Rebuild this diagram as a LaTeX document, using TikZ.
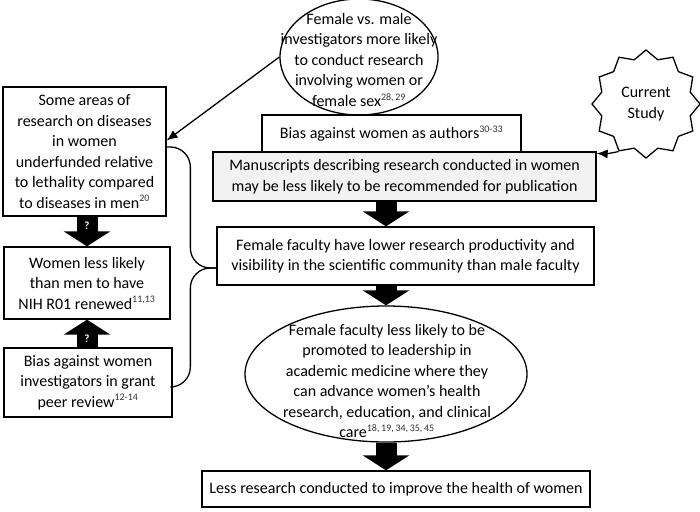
\documentclass[tikz,border=0pt]{standalone}
\usepackage{fontspec}
\setmainfont{Carlito}
\usetikzlibrary{arrows.meta,shapes.geometric}
\definecolor{shade}{HTML}{F2F2F2}
\newcommand\cites[1]{\textsuperscript{\fontsize{10}{10}\selectfont\color{black!80}#1}}
\tikzset{
	box/.style={draw,line width=1.3pt,rectangle,inner sep=0pt,align=center},
	oval/.style={draw,line width=1.3pt,ellipse,inner sep=0pt},
	txt/.style={align=center,inner sep=0pt},
	fat/.style={line width=21pt,-{Triangle[length=15pt,width=46pt]}},
	qmark/.style={text=white,font=\fontsize{11}{11}\selectfont\bfseries,inner sep=0pt},
	link/.style={line width=1.3pt},
}
\begin{document}
\begin{tikzpicture}[x=1pt,y=-1pt,font=\fontsize{16}{20.5}\selectfont]
	\useasboundingbox (0,0) rectangle (700,511);
	
	%LEFT COLUMN
	\node[box,minimum width=163,minimum height=129] (areas) at (84.5,151.5) {Some areas of\\research on diseases\\in women\\underfunded relative\\to lethality compared\\to diseases in men\cites{20}};
	\node[box,minimum width=166,minimum height=72] (renew) at (87,283) {Women less likely\\than men to have\\NIH R01 renewed\cites{11,13}};
	\node[box,minimum width=168,minimum height=69] (grant) at (88,382.5) {Bias against women\\investigators in grant\\peer review\cites{12-14}};
	
	%MIDDLE COLUMN
	\node[oval,minimum width=158,minimum height=116] (invest) at (359,57) {};
	\node[txt] at (359,60) {Female vs. male\\investigators more likely\\to conduct research\\involving women or\\female sex\cites{28,\,29}};
	\node[box,minimum width=259,minimum height=37] (authors) at (391.5,133.5) {Bias against women as authors\cites{30-33}};
	\node[box,fill=shade,minimum width=383,minimum height=49] (manus) at (404.5,176.5) {Manuscripts describing research conducted in women\\may be less likely to be recommended for publication};
	\node[box,minimum width=377,minimum height=58] (faculty) at (405.5,256) {Female faculty have lower research productivity and\\visibility in the scientific community than male faculty};
	\node[oval,minimum width=282,minimum height=136] (leader) at (386,374) {};
	\node[txt] at (387,381) {Female faculty less likely to be\\promoted to leadership in\\academic medicine where they\\can advance women’s health\\research, education, and clinical\\care\cites{18,\,19,\,34,\,35,\,45}};
	\node[box,minimum width=388,minimum height=36] (less) at (396,489) {Less research conducted to improve the health of women};
	
	%STAR
	\node[draw,line width=1.3pt,star,star points=12,star point ratio=1.18,minimum size=108,inner sep=0pt,align=center] (study) at (646,104) {Current\\Study};
	
	%BLOCK ARROWS
	\draw[fat] (areas.south -| renew.north) -- node[qmark,pos=0.3]{?} (renew.north);
	\draw[fat] (grant.north -| renew.south) -- node[qmark,pos=0.3]{?} (renew.south);
	\draw[fat] (manus.south -| leader.north) -- (faculty.north -| leader.north);
	\draw[fat] (faculty.south -| leader.north) -- (leader.north);
	\draw[fat] (leader.south) -- (less.north -| leader.south);
	
	%THIN ARROWS
	\draw[link,-{Latex[length=11pt,width=9pt]}] (invest.west) -- ([yshift=11pt]areas.east);
	\draw[link,-{Latex[length=11pt,width=9pt]}] (study.-120) to[bend left=8] ([yshift=-2pt]manus.north east);
	
	%BRACE
	\draw[link,rounded corners=20pt] ([yshift=4.5pt]areas.east) -| ([xshift=-26pt,yshift=-12pt]faculty.west) -- ([yshift=-12pt]faculty.west);
	\draw[link,rounded corners=20pt] ([yshift=-4.5pt]grant.east) -| ([xshift=-26pt,yshift=-12pt]faculty.west) -- ([yshift=-12pt]faculty.west);
\end{tikzpicture}
\end{document}
